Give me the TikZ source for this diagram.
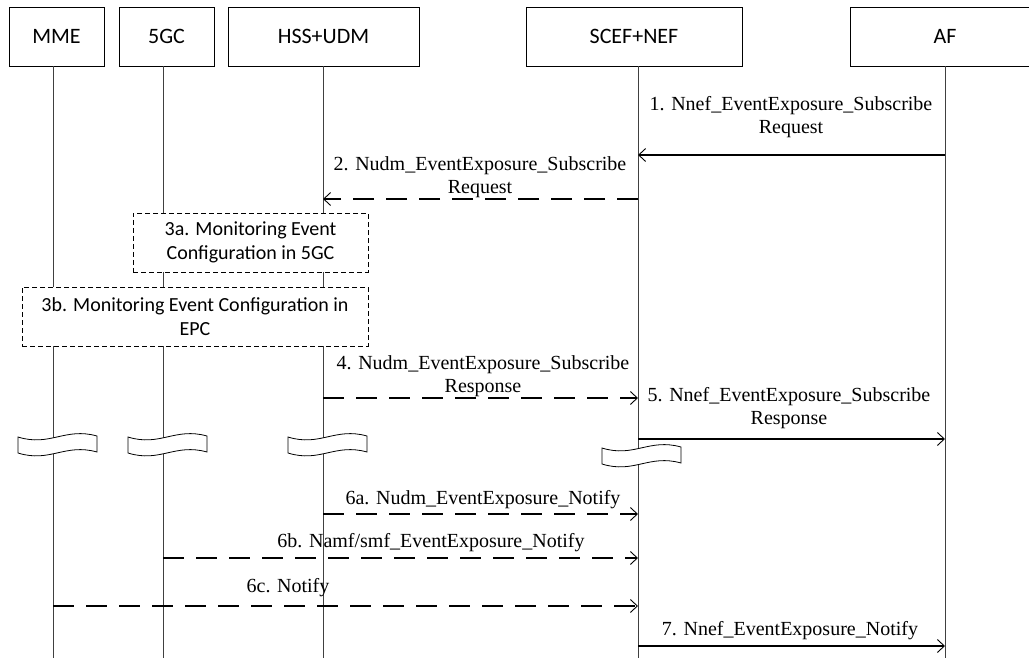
\documentclass[tikz,border=0pt]{standalone}
\usepackage{fontspec}
\setmainfont{Liberation Serif}
\newfontfamily\calib{Carlito}
\usetikzlibrary{arrows.meta}
\begin{document}
\begin{tikzpicture}[x=1pt,y=-1pt,
 hdr/.style={draw=black, line width=0.9pt, fill=white, minimum height=59pt, inner sep=0pt, font=\calib\fontsize{22}{26}\selectfont},
 life/.style={draw=black!75, line width=0.9pt},
 msg/.style={draw=black, line width=1.1pt, -{Straight Barb[length=7pt,width=13pt,line width=0.9pt]}},
 dmsg/.style={msg, dash pattern=on 21pt off 12pt},
 lbl/.style={font=\fontsize{20}{23}\selectfont, align=center, inner sep=0pt},
 procbox/.style={draw=black, line width=0.8pt, dash pattern=on 5pt off 3pt, fill=white, inner sep=0pt, font=\calib\fontsize{20}{24.5}\selectfont, align=center, minimum height=59pt},
 brk/.style={draw=black, line width=0.8pt, fill=white},
 brkpic/.pic={\path[brk] (-35,0) .. controls (-3,10) and (12,-10) .. (44,-1) -- (44,15) .. controls (12,6) and (-3,26) .. (-35,16) -- cycle;}
]
\useasboundingbox (0,0) rectangle (1029,658);

% headers
\node[hdr, minimum width=95pt] (mme) at (56.5,36.5) {MME};
\node[hdr, minimum width=95pt] (fgc) at (166.5,36.5) {5GC};
\node[hdr, minimum width=191pt] (hss) at (323.5,36.5) {HSS+UDM};
\node[hdr, minimum width=216pt] (scef) at (634,36.5) {SCEF+NEF};
\node[hdr, minimum width=190pt] (af) at (945,36.5) {AF};

% lifeline ends
\coordinate (emme) at (53,658);
\coordinate (efgc) at (163,658);
\coordinate (ehss) at (323,658);
\coordinate (escef) at (638,658);
\coordinate (eaf) at (945,658);
\draw[life] (mme.south -| emme) -- (emme);
\draw[life] (fgc.south -| efgc) -- (efgc);
\draw[life] (hss.south -| ehss) -- (ehss);
\draw[life] (scef.south -| escef) -- (escef);
\draw[life] (af.south -| eaf) -- (eaf);

% 1
\coordinate (m1a) at (945,155); \coordinate (m1b) at (638,155);
\draw[msg] (m1a) -- (m1b);
\node[lbl] (l1) at (791,117) {1. Nnef\_EventExposure\_Subscribe\\Request};
% 2
\coordinate (m2a) at (638,199); \coordinate (m2b) at (323,199);
\draw[dmsg] (m2a) -- (m2b);
\node[lbl] (l2) at (480,177) {2. Nudm\_EventExposure\_Subscribe\\Request};
% 3a 3b
\node[procbox, minimum width=235pt] (p3a) at (250.5,242.5) {3a. Monitoring Event\\Configuration in 5GC};
\node[procbox, minimum width=346pt] (p3b) at (195,316.5) {3b. Monitoring Event Configuration in\\EPC};
% 4
\coordinate (m4a) at (323,398); \coordinate (m4b) at (638,398);
\draw[dmsg] (m4a) -- (m4b);
\node[lbl] (l4) at (483,376) {4. Nudm\_EventExposure\_Subscribe\\Response};
% 5
\coordinate (m5a) at (638,439); \coordinate (m5b) at (945,439);
\draw[msg] (m5a) -- (m5b);
\node[lbl] (l5) at (789,408) {5. Nnef\_EventExposure\_Subscribe\\Response};

% breaks
\pic at (53,437) {brkpic};
\pic at (163,437) {brkpic};
\pic at (323,437) {brkpic};
\pic at (637,448) {brkpic};

% 6a
\coordinate (m6aa) at (323,514); \coordinate (m6ab) at (638,514);
\draw[dmsg] (m6aa) -- (m6ab);
\node[lbl] (l6a) at (483,500) {6a. Nudm\_EventExposure\_Notify};
% 6b
\coordinate (m6ba) at (163,558); \coordinate (m6bb) at (638,558);
\draw[dmsg] (m6ba) -- (m6bb);
\node[lbl] (l6b) at (431,543) {6b. Namf/smf\_EventExposure\_Notify};
% 6c
\coordinate (m6ca) at (53,606); \coordinate (m6cb) at (638,606);
\draw[dmsg] (m6ca) -- (m6cb);
\node[lbl] (l6c) at (288,588) {6c. Notify};
% 7
\coordinate (m7a) at (638,646); \coordinate (m7b) at (945,646);
\draw[msg] (m7a) -- (m7b);
\node[lbl] (l7) at (790,631) {7. Nnef\_EventExposure\_Notify};
\end{tikzpicture}
\end{document}
